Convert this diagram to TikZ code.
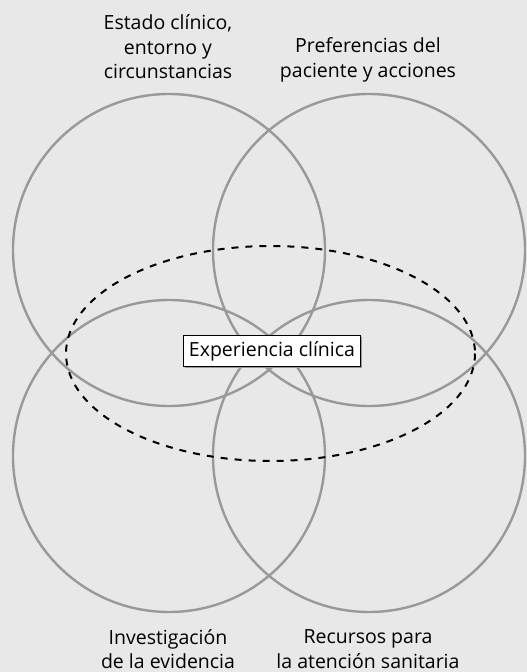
\documentclass[tikz,border=0pt]{standalone}
\usepackage{fontspec}
\setmainfont{Open Sans}
\usetikzlibrary{shadows}
\definecolor{bggray}{HTML}{E8E8E8}
\definecolor{ringgray}{HTML}{999999}
\tikzset{
  ring/.style={draw=ringgray, line width=2.4pt},
  label/.style={align=center, font=\fontsize{19.5}{24.5}\selectfont, text=black},
  expbox/.style={draw=black, fill=white, line width=1.1pt, inner xsep=5.5pt, inner ysep=5.5pt,
    font=\fontsize{19.5}{20}\selectfont,
    drop shadow={shadow xshift=1.2pt, shadow yshift=-1.2pt, fill=gray!80, opacity=1}}
}
\begin{document}
\begin{tikzpicture}[x=1pt,y=-1pt]
        \fill[bggray] (0,0) rectangle (527,672);
        \useasboundingbox (0,0) rectangle (527,672);
        \draw[ring] (169,250) circle (156);
        \draw[ring] (369,250) circle (156);
        \draw[ring] (169,456) circle (156);
        \draw[ring] (369,456) circle (156);
        \draw[line width=2pt, dash pattern=on 7pt off 7pt] (270.5,353.5) ellipse (204.5 and 107.5);
        \node[expbox] (exp) at (272,351) {Experiencia clínica};
        \node[label] (estado) at (168,47) {Estado clínico,\\entorno y\\circunstancias};
        \node[label] (pref) at (368,60) {Preferencias del\\paciente y acciones};
        \node[label] (inv) at (168,649) {Investigación\\de la evidencia};
        \node[label] (rec) at (368,649) {Recursos para\\la atención sanitaria};
    \end{tikzpicture}
\end{document}
